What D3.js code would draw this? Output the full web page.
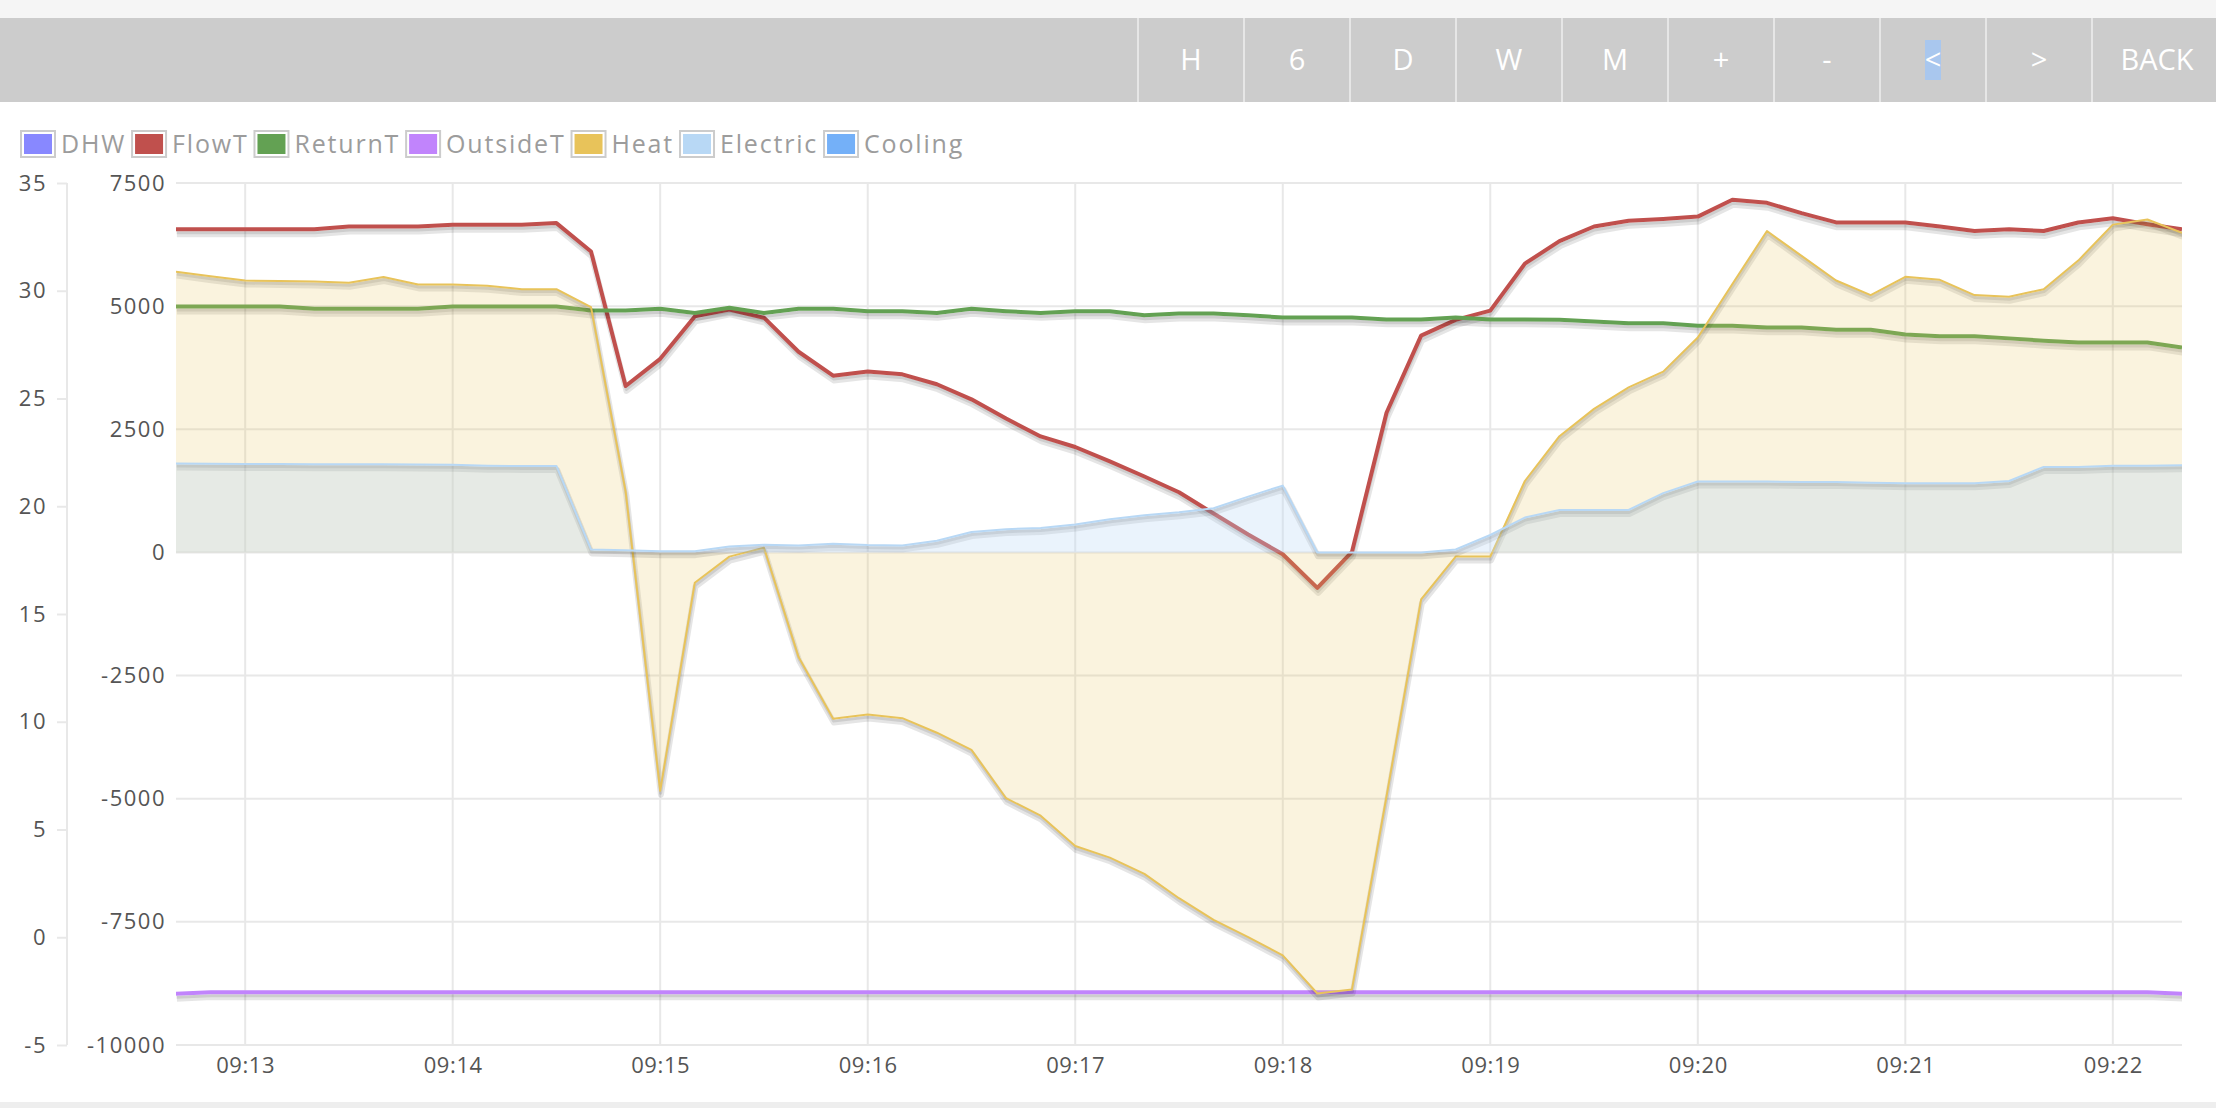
<!DOCTYPE html>
<html>
<head>
<meta charset="utf-8">
<script src="https://cdn.jsdelivr.net/npm/d3@7"></script>
<style>
  body { margin: 0; background: #fff; overflow: hidden; }
  text { font-family: "Open Sans", sans-serif; }
</style>
</head>
<body>
<script>
// ~ heat pump feed view, 10 s samples ~

// sample times:
var times = ["09:12:40","09:12:50",
    "09:13:00","09:13:10","09:13:20","09:13:30","09:13:40","09:13:50",
    "09:14:00","09:14:10","09:14:20","09:14:30","09:14:40","09:14:50",
    "09:15:00","09:15:10","09:15:20","09:15:30","09:15:40","09:15:50",
    "09:16:00","09:16:10","09:16:20","09:16:30","09:16:40","09:16:50",
    "09:17:00","09:17:10","09:17:20","09:17:30","09:17:40","09:17:50",
    "09:18:00","09:18:10","09:18:20","09:18:30","09:18:40","09:18:50",
    "09:19:00","09:19:10","09:19:20","09:19:30","09:19:40","09:19:50",
    "09:20:00","09:20:10","09:20:20","09:20:30","09:20:40","09:20:50",
    "09:21:00","09:21:10","09:21:20","09:21:30","09:21:40","09:21:50",
    "09:22:00","09:22:10","09:22:20"];

// temperatures (degC, left axis):
var flowT = [32.85,32.85,32.85,32.85,32.85,32.98,32.98,32.98,33.06,33.06,
    33.06,33.14,31.82,25.58,26.84,28.81,29.13,28.75,27.17,26.06,
    26.25,26.12,25.66,24.96,24.07,23.24,22.75,22.08,21.38,20.65,
    19.66,18.69,17.77,16.21,17.88,24.34,27.92,28.65,29.08,31.26,
    32.30,32.98,33.25,33.33,33.44,34.22,34.08,33.60,33.17,33.17,
    33.17,32.98,32.77,32.85,32.77,33.17,33.36,33.09,32.85];
var returnT = [29.27,29.27,29.27,29.27,29.16,29.16,29.16,29.16,29.27,29.27,
    29.27,29.27,29.08,29.08,29.16,28.97,29.21,28.97,29.16,29.16,
    29.05,29.05,28.97,29.16,29.05,28.97,29.05,29.05,28.86,28.94,
    28.94,28.86,28.76,28.76,28.76,28.67,28.67,28.76,28.67,28.67,
    28.65,28.57,28.49,28.49,28.38,28.38,28.30,28.30,28.19,28.19,
    27.97,27.89,27.89,27.79,27.68,27.60,27.60,27.60,27.36];
var outsideT = [-2.62,-2.55,-2.55,-2.55,-2.55,-2.55,-2.55,-2.55,-2.55,-2.55,
    -2.55,-2.55,-2.55,-2.55,-2.55,-2.55,-2.55,-2.55,-2.55,-2.55,
    -2.55,-2.55,-2.55,-2.55,-2.55,-2.55,-2.55,-2.55,-2.55,-2.55,
    -2.55,-2.55,-2.55,-2.55,-2.55,-2.55,-2.55,-2.55,-2.55,-2.55,
    -2.55,-2.55,-2.55,-2.55,-2.55,-2.55,-2.55,-2.55,-2.55,-2.55,
    -2.55,-2.55,-2.55,-2.55,-2.55,-2.55,-2.55,-2.55,-2.62];

// power (W, second axis):
var heat = [5700,5605,5520,5510,5500,5475,5590,5440,5440,5415,
    5345,5345,4980,1240,-4840,-615,-85,95,-2125,-3375,
    -3290,-3365,-3660,-4010,-4990,-5345,-5960,-6195,-6525,-7020,
    -7460,-7810,-8180,-8955,-8875,-4955,-955,-85,-85,1450,
    2360,2915,3350,3670,4365,5450,6525,6020,5520,5225,
    5595,5535,5225,5190,5345,5925,6655,6760,6490];
var electric = [1805,1800,1795,1795,1790,1790,1790,1785,1780,1760,
    1755,1755,60,45,25,25,120,155,140,175,
    150,142,236,413,472,496,566,673,755,814,
    897,1133,1357,0,0,0,0,59,354,708,
    861,861,861,1204,1440,1440,1440,1428,1428,1416,
    1404,1404,1404,1451,1735,1735,1758,1758,1770];

// legend + ticks:
var legendNames = ["DHW","FlowT","ReturnT","OutsideT","Heat","Electric","Cooling"];
var legendColors = ["#8888ff","#c0504d","#63a153","#c184fc","#e8c35a","#b8d8f5","#74b0f8"];
var tempTicks = [35,30,25,20,15,10,5,0,-5];
var powerTicks = [7500,5000,2500,0,-2500,-5000,-7500,-10000];
var timeTicks = ["09:13","09:14","09:15","09:16","09:17","09:18","09:19","09:20","09:21","09:22"];
var buttonLabels = ["H","6","D","W","M","+","-","<",">","BACK"];

// page frame:
var W = 2216, H = 1108;
var plotLeft = 176, plotRight = 2182, plotTop = 183, plotBottom = 1045;

var svg = d3.select("body").append("svg")
    .attr("width", W)
    .attr("height", H);

// top strip + toolbar:
svg.append("rect").attr("width", W).attr("height", 18).attr("fill", "#f5f5f5");
svg.append("rect").attr("y", 18).attr("width", W).attr("height", 84).attr("fill", "#cccccc");
svg.append("rect").attr("y", 1102).attr("width", W).attr("height", 6).attr("fill", "#eeeeee");

var btnWidths = buttonLabels.map(function (d) { return d == "BACK" ? 130 : 106; });
var btnLeft = 1138;
buttonLabels.forEach(function (lab, i) {
    var bx = btnLeft + d3.sum(btnWidths.slice(0, i));
    var cx = bx + btnWidths[i] / 2;
    svg.append("rect")
        .attr("x", bx - 1).attr("y", 18)
        .attr("width", 2).attr("height", 84)
        .attr("fill", "#e6e6e6");
    if (lab == "<") { // text selection highlight
        svg.append("rect")
            .attr("x", cx - 8).attr("y", 40)
            .attr("width", 16).attr("height", 40)
            .attr("fill", "#a9c7ee");
    }
    svg.append("text")
        .attr("x", cx).attr("y", 60)
        .attr("dy", "0.36em")
        .attr("text-anchor", "middle")
        .attr("fill", "#ffffff")
        .style("font-size", "29px")
        .text(lab);
});

// legend (flot style colour boxes):
var lx = 20;
legendNames.forEach(function (name, i) {
    svg.append("rect")
        .attr("x", lx + 1).attr("y", 131)
        .attr("width", 34).attr("height", 26)
        .attr("fill", "none").attr("stroke", "#cccccc").attr("stroke-width", 2);
    svg.append("rect")
        .attr("x", lx + 4).attr("y", 134)
        .attr("width", 28).attr("height", 20)
        .attr("fill", legendColors[i]);
    var t = svg.append("text")
        .attr("x", lx + 41).attr("y", 144)
        .attr("dy", "0.36em")
        .attr("fill", "#9c9c9c")
        .style("font-size", "25px")
        .style("letter-spacing", "1.8px")
        .text(name);
    lx = lx + 41 + t.node().getComputedTextLength() + 5;
});

// scales:
var parseT = d3.timeParse("%H:%M:%S");
var parseM = d3.timeParse("%H:%M");
var tp = times.map(parseT);

var x = d3.scaleTime()
    .domain([tp[0], tp[tp.length - 1]])
    .range([plotLeft, plotRight]);
var yTemp = d3.scaleLinear().domain([-5, 35]).range([plotBottom, plotTop]);
var yPow = d3.scaleLinear().domain([-10000, 7500]).range([plotBottom, plotTop]);

var gridCol = "#e8e8e8";
var plainNum = function (d) { return String(d); }; // hyphen minus like flot

// grid lines (power axis + minutes):
var grid = svg.append("g");
grid.selectAll(".hgrid")
    .data(powerTicks).enter().append("line")
    .attr("x1", plotLeft).attr("x2", plotRight)
    .attr("y1", function (d) { return yPow(d); })
    .attr("y2", function (d) { return yPow(d); })
    .attr("stroke", gridCol).attr("stroke-width", 2);
grid.selectAll(".vgrid")
    .data(timeTicks.map(parseM)).enter().append("line")
    .attr("x1", function (d) { return x(d); })
    .attr("x2", function (d) { return x(d); })
    .attr("y1", plotTop).attr("y2", plotBottom)
    .attr("stroke", gridCol).attr("stroke-width", 2);

// temp axis (outer left, short ticks + axis line):
var tempAxis = svg.append("g")
    .attr("transform", "translate(67,0)")
    .call(d3.axisLeft(yTemp).tickValues(tempTicks).tickSize(10).tickPadding(10).tickFormat(plainNum));
tempAxis.select(".domain").attr("stroke", gridCol).attr("stroke-width", 2).attr("d", "M0," + plotTop + "V" + plotBottom);
tempAxis.selectAll(".tick line").attr("stroke", gridCol).attr("stroke-width", 2);

// power axis labels:
var powAxis = svg.append("g")
    .attr("transform", "translate(" + (plotLeft - 10) + ",0)")
    .call(d3.axisLeft(yPow).tickValues(powerTicks).tickSize(0).tickPadding(0).tickFormat(plainNum));
powAxis.select(".domain").remove();

// time axis labels:
var timeAxis = svg.append("g")
    .attr("transform", "translate(0," + plotBottom + ")")
    .call(d3.axisBottom(x).tickValues(timeTicks.map(parseM)).tickSize(0).tickPadding(12).tickFormat(d3.timeFormat("%H:%M")));
timeAxis.select(".domain").remove();

svg.selectAll(".tick text")
    .attr("fill", "#555555")
    .style("font-family", "'Open Sans', sans-serif")
    .style("font-size", "22px")
    .style("letter-spacing", "1.5px");
timeAxis.selectAll(".tick text").style("letter-spacing", "0.6px");

// plot area:
svg.append("clipPath").attr("id", "plotclip")
    .append("rect")
    .attr("x", plotLeft).attr("y", plotTop)
    .attr("width", plotRight - plotLeft).attr("height", plotBottom - plotTop);
var plot = svg.append("g").attr("clip-path", "url(#plotclip)");

// flot-ish series: shadow, fill, line
function drawSeries(vals, y, color, lw, fillOpacity) {
    var g = plot.append("g");
    var sw = 6, ang = Math.PI / 18;
    var line = d3.line()
        .x(function (d, i) { return x(tp[i]); })
        .y(function (d) { return y(d); });
    [[sw, lw / 2 + sw / 2], [sw / 2, lw / 2 + sw / 4]].forEach(function (s) {
        g.append("path")
            .attr("d", line(vals))
            .attr("transform", "translate(" + Math.sin(ang) * s[1] + "," + Math.cos(ang) * s[1] + ")")
            .attr("fill", "none")
            .attr("stroke", "rgba(0,0,0,0.1)")
            .attr("stroke-width", s[0])
            .attr("stroke-linejoin", "round");
    });
    if (fillOpacity) {
        var area = d3.area()
            .x(function (d, i) { return x(tp[i]); })
            .y0(y(0))
            .y1(function (d) { return y(d); });
        g.append("path")
            .attr("d", area(vals))
            .attr("fill", color)
            .attr("fill-opacity", fillOpacity);
    }
    g.append("path")
        .attr("d", line(vals))
        .attr("fill", "none")
        .attr("stroke", color)
        .attr("stroke-width", lw)
        .attr("stroke-linejoin", "round");
}

drawSeries(flowT, yTemp, legendColors[1], 4, 0);
drawSeries(returnT, yTemp, legendColors[2], 4, 0);
drawSeries(outsideT, yTemp, legendColors[3], 4, 0);
drawSeries(heat, yPow, legendColors[4], 2, 0.2);
drawSeries(electric, yPow, legendColors[5], 2, 0.3);
</script>
</body>
</html>
